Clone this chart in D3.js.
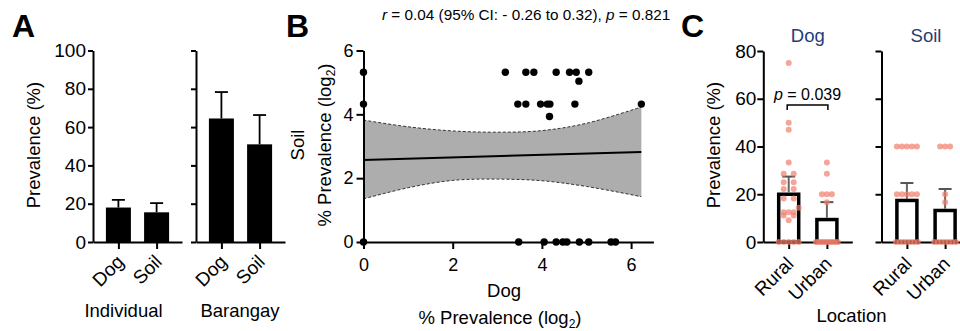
<!DOCTYPE html>
<html><head><meta charset="utf-8">
<script src="https://cdn.jsdelivr.net/npm/d3@7"></script>
<style>html,body{margin:0;padding:0;background:#fff;}</style>
</head><body>
<svg id="chart" width="960" height="331"></svg>
<script>
// ---------------- DATA ----------------
// Panel A
const aCategories = ["Dog", "Soil"];
const aIndividualMean = [18, 15.5];
const aIndividualErrTop = [22, 20.3];
const aBarangayMean = [64.5, 51];
const aBarangayErrTop = [78.3, 66.3];
const aYTicks = [0, 20, 40, 60, 80, 100];

// Panel B (log2 % prevalence)
const bDog  = [0, 3.18, 3.64, 3.82, 4.32, 4.62, 4.77, 5.05, 4.83,
               0, 3.46, 3.64, 3.97, 4.12, 4.18, 4.74, 6.23, 4.17,
               0, 3.48, 4.05, 4.32, 4.47, 4.56, 4.84, 5.05, 5.55, 5.65];
const bSoil = [5.32, 5.32, 5.32, 5.32, 5.32, 5.32, 5.32, 5.32, 5.04,
               4.32, 4.32, 4.32, 4.32, 4.32, 4.32, 4.32, 4.32, 3.93,
               0, 0, 0, 0, 0, 0, 0, 0, 0, 0];
const bFitX = [0, 6.23];
const bFitY = [2.57, 2.82];
const bBandX = [0, 1, 2, 3, 4, 5, 6.23];
const bBandUpper = [3.82, 3.61, 3.48, 3.44, 3.49, 3.72, 4.23];
const bBandLower = [1.35, 1.70, 1.93, 1.97, 1.92, 1.74, 1.42];
const bTicks = [0, 2, 4, 6];

// Panel C
const cCategories = ["Rural", "Urban"];
const cDogRural = [75, 50, 47, 33.3, 28.6, 28.6, 25, 25, 22.2, 22.2, 18.2, 18.2,
                   14.3, 12.5, 12.5, 12.5, 11.1, 11.1, 9.1, 0, 0, 0, 0, 0];
const cDogUrban = [33.3, 28.6, 20, 20, 20, 16.7, 0, 0, 0, 0, 0, 0, 0, 0, 0, 0];
const cSoilRural = [40, 40, 40, 40, 40, 20, 20, 20, 20, 20, 0, 0, 0, 0, 0, 0, 0];
const cSoilUrban = [40, 40, 40, 20, 16.7, 0, 0, 0, 0, 0, 0, 0];
const cDogMean = [20, 9.4];
const cDogErrTop = [27.4, 16.7];
const cSoilMean = [17.4, 13.2];
const cSoilErrTop = [24.7, 22.2];
const cYTicks = [0, 20, 40, 60, 80];

// ---------------- DRAW ----------------
const FONT = "'Liberation Sans', Arial, Helvetica, sans-serif";
const svg = d3.select("#chart").style("font-family", FONT);
svg.append("rect").attr("width", 960).attr("height", 331).attr("fill", "#fff");

const BASE = 242;

function styleAxis(g, fs) {
  g.selectAll("path.domain").attr("stroke", "#000").attr("stroke-width", 2);
  g.selectAll(".tick line").attr("stroke", "#000").attr("stroke-width", 2);
  g.selectAll(".tick text").attr("fill", "#000").style("font-size", fs + "px").style("font-family", FONT);
}

function panelLetter(t, x) {
  svg.append("text").attr("x", x).attr("y", 36.5).text(t)
    .style("font-size", "32px").style("font-weight", "bold").attr("fill", "#000");
}

function rotLabel(t, x, y, fs) {
  svg.append("text").attr("transform", `translate(${x},${y}) rotate(-90)`)
    .attr("text-anchor", "middle").style("font-size", fs + "px").attr("fill", "#000").text(t);
}

// ---- Panel A ----
panelLetter("A", 12);
const yA = d3.scaleLinear().domain([0, 100]).range([BASE, 50.5]);
function aSub(x0, means, tops, withLabels, groupName, labelX) {
  const x = d3.scalePoint().domain(aCategories).range([x0, x0 + 89]).padding(0.665);
  const ax = svg.append("g").attr("transform", `translate(${x0},0)`)
    .call(d3.axisLeft(yA).tickValues(aYTicks).tickSize(5).tickPadding(2).tickSizeOuter(0)
      .tickFormat(withLabels ? d3.format("d") : ""));
  styleAxis(ax, 19);
  const bx = svg.append("g").attr("transform", `translate(0,${BASE})`)
    .call(d3.axisBottom(x).tickSize(7).tickSizeOuter(0).tickFormat(""));
  styleAxis(bx, 19);
  aCategories.forEach((c, i) => {
    const cx = x(c);
    svg.append("rect").attr("x", cx - 12.5).attr("width", 25)
      .attr("y", yA(means[i])).attr("height", BASE - yA(means[i])).attr("fill", "#000");
    svg.append("line").attr("x1", cx).attr("x2", cx).attr("y1", yA(means[i])).attr("y2", yA(tops[i]))
      .attr("stroke", "#000").attr("stroke-width", 1.8);
    svg.append("line").attr("x1", cx - 6.5).attr("x2", cx + 6.5).attr("y1", yA(tops[i])).attr("y2", yA(tops[i]))
      .attr("stroke", "#000").attr("stroke-width", 1.8);
    svg.append("text").attr("transform", `translate(${cx + 6.5},${263}) rotate(-45)`)
      .attr("text-anchor", "end").style("font-size", "19px").text(c);
  });
  svg.append("text").attr("x", labelX).attr("y", 316.5).attr("text-anchor", "middle")
    .style("font-size", "18.5px").text(groupName);
}
aSub(93, aIndividualMean, aIndividualErrTop, true, "Individual", 123.5);
aSub(196, aBarangayMean, aBarangayErrTop, false, "Barangay", 240);
rotLabel("Prevalence (%)", 40, 145, 18.5);

// ---- Panel B ----
panelLetter("B", 286);
const xB = d3.scaleLinear().domain([0, 6.5]).range([363.5, 363.5 + 6.5 * 44.6]);
const yB = d3.scaleLinear().domain([0, 6]).range([BASE, 50.5]);
const band = bBandX.map((x, i) => ({ x, u: bBandUpper[i], l: bBandLower[i] }));
svg.append("path").datum(band)
  .attr("d", d3.area().x(d => xB(d.x)).y0(d => yB(d.l)).y1(d => yB(d.u)).curve(d3.curveCatmullRom))
  .attr("fill", "#adadad");
["u", "l"].forEach(k => {
  svg.append("path").datum(band)
    .attr("d", d3.line().x(d => xB(d.x)).y(d => yB(d[k])).curve(d3.curveCatmullRom))
    .attr("fill", "none").attr("stroke", "#333").attr("stroke-width", 1).attr("stroke-dasharray", "3,2");
});
svg.append("line").attr("x1", xB(bFitX[0])).attr("x2", xB(bFitX[1]))
  .attr("y1", yB(bFitY[0])).attr("y2", yB(bFitY[1])).attr("stroke", "#000").attr("stroke-width", 2);
const bxAx = svg.append("g").attr("transform", `translate(0,${BASE})`)
  .call(d3.axisBottom(xB).tickValues(bTicks).tickSize(7).tickPadding(9).tickSizeOuter(0).tickFormat(d3.format("d")));
styleAxis(bxAx, 18);
const byAx = svg.append("g").attr("transform", `translate(${xB(0)},0)`)
  .call(d3.axisLeft(yB).tickValues(bTicks).tickSize(7).tickPadding(3).tickSizeOuter(0).tickFormat(d3.format("d")));
styleAxis(byAx, 18);
svg.append("g").selectAll("circle").data(bDog.map((d, i) => [d, bSoil[i]])).join("circle")
  .attr("cx", d => xB(d[0])).attr("cy", d => yB(d[1])).attr("r", 3.7).attr("fill", "#000");
rotLabel("Soil", 304, 145, 18.5);
svg.append("text").attr("transform", "translate(331,145) rotate(-90)").attr("text-anchor", "middle")
  .style("font-size", "18.5px")
  .call(t => { t.append("tspan").text("% Prevalence (log");
               t.append("tspan").text("2").style("font-size", "12px").attr("dy", 4);
               t.append("tspan").text(")").attr("dy", -4); });
svg.append("text").attr("x", 504).attr("y", 296.5).attr("text-anchor", "middle").style("font-size", "18.5px").text("Dog");
svg.append("text").attr("x", 500).attr("y", 324).attr("text-anchor", "middle").style("font-size", "18.5px")
  .call(t => { t.append("tspan").text("% Prevalence (log");
               t.append("tspan").text("2").style("font-size", "12px").attr("dy", 4);
               t.append("tspan").text(")").attr("dy", -4); });
svg.append("text").attr("x", 382).attr("y", 19.5).style("font-size", "15.3px")
  .call(t => { t.append("tspan").text("r").style("font-style", "italic");
               t.append("tspan").text(" = 0.04 (95% CI: - 0.26 to 0.32), ");
               t.append("tspan").text("p").style("font-style", "italic");
               t.append("tspan").text(" = 0.821"); });

// ---- Panel C ----
panelLetter("C", 681);
const yC = d3.scaleLinear().domain([0, 80]).range([BASE, 51]);

function swarmOffsets(values, yScale) {
  const res = new Array(values.length);
  const placed = [];
  const counts = d3.rollup(values, v => v.length, d => d);
  const seen = new Map();
  const maxHalf = 11, s = 5, minD = 5;
  values.forEach((v, i) => {
    const n = counts.get(v);
    if (n < 2) return;
    const k = seen.get(v) || 0; seen.set(v, k + 1);
    let off;
    if (n === 2) off = k === 0 ? -5 : 5;
    else {
      let sp = s;
      if ((n - 1) * sp > 2 * maxHalf) sp = 2 * maxHalf / (n - 1);
      off = (k - (n - 1) / 2) * sp;
    }
    res[i] = off; placed.push([off, yScale(v)]);
  });
  values.forEach((v, i) => {
    if (counts.get(v) >= 2) return;
    const y = yScale(v);
    const cands = [0, 5, -5, 10, -10];
    let best = 0, bestD = -1;
    for (const c of cands) {
      const d = placed.length ? d3.min(placed, p => Math.hypot(p[0] - c, p[1] - y)) : 99;
      if (d >= minD) { best = c; bestD = 99; break; }
      if (d > bestD) { bestD = d; best = c; }
    }
    res[i] = best; placed.push([best, y]);
  });
  return res;
}

function cSub(x0, title, groups, means, tops, withLabels) {
  const x = d3.scalePoint().domain(cCategories).range([x0, x0 + 89]).padding(0.665);
  const ax = svg.append("g").attr("transform", `translate(${x0},0)`)
    .call(d3.axisLeft(yC).tickValues(cYTicks).tickSize(6).tickPadding(1).tickSizeOuter(0)
      .tickFormat(withLabels ? d3.format("d") : ""));
  styleAxis(ax, 19);
  const bx = svg.append("g").attr("transform", `translate(0,${BASE})`)
    .call(d3.axisBottom(x).tickSize(7).tickSizeOuter(0).tickFormat(""));
  styleAxis(bx, 19);
  cCategories.forEach((c, i) => {
    const cx = x(c);
    svg.append("rect").attr("x", cx - 10).attr("width", 20)
      .attr("y", yC(means[i])).attr("height", BASE - yC(means[i]))
      .attr("fill", "#fff").attr("stroke", "#000").attr("stroke-width", 3.5);
    svg.append("line").attr("x1", cx).attr("x2", cx).attr("y1", yC(means[i]) - 1.7).attr("y2", yC(tops[i]))
      .attr("stroke", "#666").attr("stroke-width", 2);
    svg.append("line").attr("x1", cx - 6.5).attr("x2", cx + 6.5).attr("y1", yC(tops[i])).attr("y2", yC(tops[i]))
      .attr("stroke", "#555").attr("stroke-width", 2);
    const vals = groups[i];
    const offs = swarmOffsets(vals, yC);
    svg.append("g").selectAll("circle").data(vals).join("circle")
      .attr("cx", (d, j) => cx + offs[j]).attr("cy", d => yC(d)).attr("r", 3)
      .attr("fill", "#F07F6B").attr("fill-opacity", 0.7);
    svg.append("text").attr("transform", `translate(${cx + 6},${265}) rotate(-45)`)
      .attr("text-anchor", "end").style("font-size", "19px").text(c);
  });
  svg.append("text").attr("x", x0 + 44.5).attr("y", 42).attr("text-anchor", "middle")
    .style("font-size", "18.5px").attr("fill", "#1F3D7A").text(title);
  return x;
}
const xCd = cSub(763.3, "Dog", [cDogRural, cDogUrban], cDogMean, cDogErrTop, true);
cSub(881.5, "Soil", [cSoilRural, cSoilUrban], cSoilMean, cSoilErrTop, false);
rotLabel("Prevalence (%)", 720, 145, 18.5);
svg.append("text").attr("x", 851.5).attr("y", 322).attr("text-anchor", "middle").style("font-size", "18.5px").text("Location");
const bx1 = xCd("Rural") - 1.5, bx2 = xCd("Urban") + 1;
svg.append("path").attr("d", `M${bx1},110 V105 H${bx2} V110`).attr("fill", "none")
  .attr("stroke", "#000").attr("stroke-width", 1.5);
svg.append("text").attr("x", (bx1 + bx2) / 2).attr("y", 99.5).attr("text-anchor", "middle").style("font-size", "16px")
  .call(t => { t.append("tspan").text("p").style("font-style", "italic");
               t.append("tspan").text(" = 0.039"); });
</script>
</body></html>
